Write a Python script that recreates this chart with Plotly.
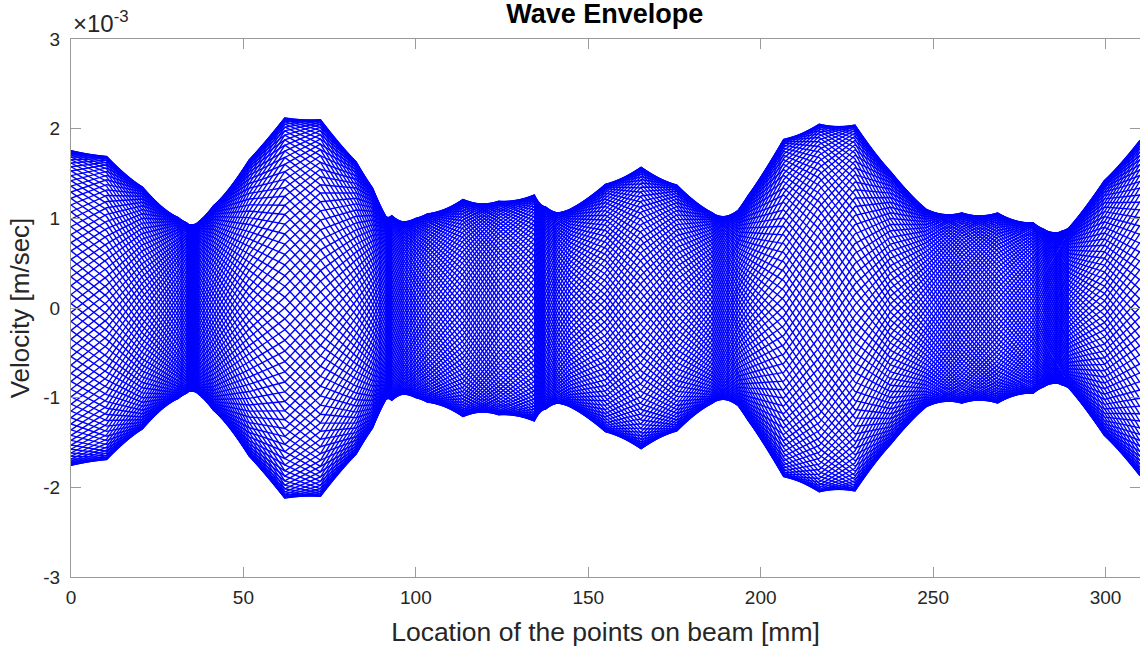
import numpy as np
import plotly.graph_objects as go

# Measurement points along the beam [mm]
x_nodes = [0, 10.33, 20.67, 31.0, 33.5, 35.0, 37.0, 41.33, 51.67, 62.0,
           72.33, 82.67, 87.4, 91.3, 93.0, 96.6, 100.0, 103.33, 113.67, 124.0,
           134.33, 137.5, 141.2, 144.67, 155.0, 165.33, 175.67, 186.0, 189.6, 193.5,
           196.33, 206.67, 217.0, 227.33, 237.67, 248.0, 258.33, 268.67, 279.0, 282.0,
           285.0, 287.5, 289.33, 299.67, 310.0]
# Velocity amplitude at each point [x1e-3 m/s]
amp_e3 = [1.755, 1.69, 1.35, 1.01, 0.95, 0.93, 0.96, 1.14, 1.65, 2.12,
          2.10, 1.63, 1.34, 1.02, 1.03, 0.96, 1.00, 1.05, 1.21, 1.19,
          1.26, 1.13, 1.06, 1.10, 1.38, 1.57, 1.37, 1.06, 1.02, 1.09,
          1.25, 1.88, 2.05, 2.04, 1.52, 1.10, 1.06, 1.06, 0.95, 0.88,
          0.84, 0.86, 0.89, 1.42, 1.87]
# Phase change between neighbouring points [rad]
phase_step = [0.18, 0.34, 0.5, 0.2, 0.3, 0.3, 0.3, 0.45, 0.2, 0.2,
              0.25, 0.2, 0.3, 0.35, 0.35, 0.25, 0.2, 0.45, 0.51, 0.4,
              0.45, 0.3, 0.2, 0.34, 0.34, 0.34, 0.4, 0.35, 0.3, 0.15,
              0.29, 0.29, 0.29, 0.3, 0.35, 0.53, 0.5, 0.5, 0.25, 0.3,
              0.3, 0.2, 0.35, 0.29]
n_snapshots = 110

x_ticks = [0, 50, 100, 150, 200, 250, 300]
y_ticks = [-3, -2, -1, 0, 1, 2, 3]

amp = np.array(amp_e3) * 1e-3
phase = np.concatenate([[0.0], np.cumsum(phase_step)])
xs, ys = [], []
for k in range(n_snapshots):
    wt = 2 * np.pi * k / n_snapshots
    v = amp * np.cos(phase - wt)
    xs.extend(list(x_nodes) + [None])
    ys.extend(list(v) + [None])

fig = go.Figure()
fig.add_trace(go.Scatter(x=xs, y=ys, mode="lines",
                         line=dict(color="#0000FF", width=1.4),
                         hoverinfo="skip", showlegend=False))

axis_common = dict(showline=True, linecolor="#9a9a9a", linewidth=1, mirror="ticks",
                   ticks="inside", ticklen=10, tickcolor="#9a9a9a", showgrid=False,
                   zeroline=False, tickfont=dict(size=19, color="#262626"))
fig.update_xaxes(range=[0, 310], tickvals=x_ticks, ticklabelstandoff=3,
                 title=dict(text="Location of the points on beam [mm]",
                            font=dict(size=26.5, color="#262626"), standoff=15),
                 **axis_common)
fig.update_yaxes(range=[-3e-3, 3e-3], tickvals=[v * 1e-3 for v in y_ticks],
                 ticktext=[str(v) for v in y_ticks], ticklabelstandoff=6,
                 title=dict(text="Velocity [m/sec]",
                            font=dict(size=26, color="#262626"), standoff=6),
                 **axis_common)
fig.update_layout(
    width=1140, height=651,
    margin=dict(l=71, r=0, t=39, b=74, autoexpand=False),
    paper_bgcolor="white", plot_bgcolor="white",
    font=dict(family="Liberation Sans, Arial, sans-serif", color="#262626"),
    title=dict(text="<b>Wave Envelope</b>", x=0.5305, xanchor="center",
               y=0.993, yanchor="top", font=dict(size=27, color="#000000")),
    annotations=[dict(text="×10<sup>-3</sup>", xref="paper", yref="paper",
                      x=0, y=1, xanchor="left", yanchor="bottom", yshift=0,
                      showarrow=False, font=dict(size=24, color="#262626"))],
)
fig.write_html("out.html", config={"displayModeBar": False},
               post_script="document.body.style.margin='0px';document.body.style.overflow='hidden';")
